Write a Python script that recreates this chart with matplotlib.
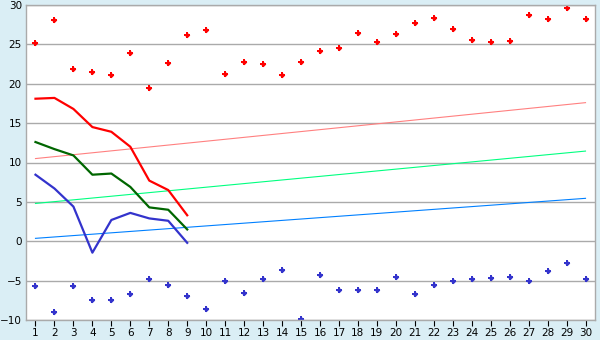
import numpy as np
import matplotlib
matplotlib.use("Agg")
import matplotlib.pyplot as plt

days = list(range(1, 31))

upper_points = [25.2, 28.1, 21.9, 21.5, 21.1, 23.9, 19.5, 22.6, 26.2, 26.8,
                21.2, 22.7, 22.5, 21.1, 22.7, 24.2, 24.5, 26.4, 25.3, 26.3,
                27.7, 28.3, 26.9, 25.5, 25.3, 25.4, 28.7, 28.2, 29.6, 28.2]
lower_points = [-5.7, -9.0, -5.7, -7.5, -7.5, -6.7, -4.8, -5.6, -7.0, -8.6,
                -5.1, -6.6, -4.8, -3.6, -9.9, -4.3, -6.2, -6.2, -6.2, -4.5,
                -6.7, -5.5, -5.0, -4.8, -4.7, -4.6, -5.0, -3.8, -2.7, -4.8]

line_days = list(range(1, 10))
red_line = [18.1, 18.2, 16.8, 14.5, 13.9, 12.0, 7.7, 6.5, 3.3]
green_line = [12.6, 11.7, 10.9, 8.45, 8.6, 6.9, 4.3, 4.0, 1.5]
blue_line = [8.45, 6.7, 4.4, -1.45, 2.7, 3.6, 2.9, 2.6, -0.2]

trend_days = [1, 30]
red_trend = [10.5, 17.6]
green_trend = [4.8, 11.45]
blue_trend = [0.37, 5.45]

fig = plt.figure(figsize=(6, 3.4), dpi=100, facecolor="#DAEEF5")
ax = fig.add_axes([26 / 600, 20 / 340, 569 / 600, 315 / 340])
ax.set_facecolor("white")

ax.grid(axis="y", color="#AAAAAA", linewidth=1.0)
ax.set_axisbelow(True)

ax.plot(trend_days, red_trend, color="#FF8080", linewidth=0.8)
ax.plot(trend_days, green_trend, color="#00FF80", linewidth=0.8)
ax.plot(trend_days, blue_trend, color="#0080FF", linewidth=0.8)

ax.plot(line_days, red_line, color="#FF0000", linewidth=1.6)
ax.plot(line_days, green_line, color="#006600", linewidth=1.6)
ax.plot(line_days, blue_line, color="#3333CC", linewidth=1.6)

# plus-shaped diamond markers
for pts, col in [(upper_points, "#FF0000"), (lower_points, "#3333CC")]:
    ax.plot(days, pts, linestyle="none", marker="P", markersize=5,
            color=col, markeredgewidth=0)
    ax.plot(days, pts, linestyle="none", marker="D", markersize=2.8,
            color=col, markeredgewidth=0)

ax.set_xlim(0.5, 30.5)
ax.set_ylim(-10, 30)
ax.set_xticks(days)
ax.set_yticks(range(-10, 31, 5))
ax.tick_params(axis="x", direction="out", length=4, width=0.8, color="black",
               labelsize=7.5, pad=2)
ax.tick_params(axis="y", length=0, labelsize=7.5, pad=3)
for s in ax.spines.values():
    s.set_color("#AAAAAA")
    s.set_linewidth(1.0)

fig.savefig("out.png", dpi=100, facecolor=fig.get_facecolor())
